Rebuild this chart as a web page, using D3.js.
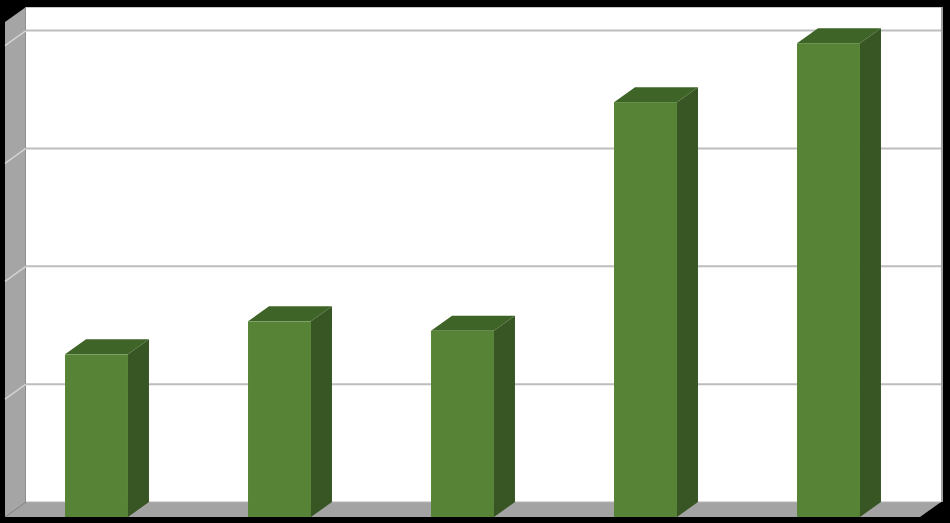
<!DOCTYPE html>
<meta charset="utf-8">
<style>
body { margin: 0; background: #000; }
svg { display: block; }
</style>
<body>
<div id="chart"></div>
<script src="https://cdn.jsdelivr.net/npm/d3@7"></script>
<script>
// data (no axis labels shown in the original)
var categories = ['Cat 1', 'Cat 2', 'Cat 3', 'Cat 4', 'Cat 5'];
var values = [6.9, 8.3, 7.9, 17.6, 20.1];
var yTicks = [0, 5, 10, 15, 20];
var yMax = 21;

var width = 950, height = 523;
// 3d depth offset: back plane is shifted right/up from the front plane
var dx = 21, dy = 15;
var wallLeft = 26, wallRight = 941, wallTop = 7, wallBottom = 502;

var svg = d3.select('#chart')
  .append('svg')
  .attr('width', width)
  .attr('height', height);

svg.append('rect')
  .attr('width', width)
  .attr('height', height)
  .attr('fill', '#000');

// front plane x scale, back plane y scale
var x = d3.scaleBand()
  .domain(categories)
  .range([wallLeft - dx, wallRight - dx])
  .paddingInner(0.656)
  .paddingOuter(0.328);

var y = d3.scaleLinear()
  .domain([0, yMax])
  .range([wallBottom, wallTop]);

// back wall
svg.append('rect')
  .attr('x', wallLeft)
  .attr('y', wallTop)
  .attr('width', wallRight - wallLeft)
  .attr('height', wallBottom - wallTop)
  .attr('fill', '#fff');

svg.append('line')
  .attr('x1', wallLeft).attr('x2', wallRight)
  .attr('y1', wallTop + 0.5).attr('y2', wallTop + 0.5)
  .attr('stroke', '#c8c8c8')
  .attr('stroke-width', 1);

svg.append('line')
  .attr('x1', wallRight + 1).attr('x2', wallRight + 1)
  .attr('y1', wallTop).attr('y2', wallBottom)
  .attr('stroke', '#a0a0a0')
  .attr('stroke-width', 2);

// left side wall
svg.append('polygon')
  .attr('points', [[wallLeft, wallTop], [wallLeft, wallBottom],
                   [wallLeft - dx, wallBottom + dy], [wallLeft - dx, wallTop + dy]].join(' '))
  .attr('fill', '#a5a5a5');

svg.append('line')
  .attr('x1', wallLeft - 0.5).attr('x2', wallLeft - 0.5)
  .attr('y1', wallTop).attr('y2', wallBottom)
  .attr('stroke', '#8f8f8f')
  .attr('stroke-width', 1);

// floor
svg.append('polygon')
  .attr('points', [[wallLeft, wallBottom], [wallRight, wallBottom],
                   [wallRight - dx, wallBottom + dy], [wallLeft - dx, wallBottom + dy]].join(' '))
  .attr('fill', '#a3a3a3');

svg.append('line')
  .attr('x1', wallLeft).attr('x2', wallRight)
  .attr('y1', wallBottom).attr('y2', wallBottom)
  .attr('stroke', '#b4b4b4')
  .attr('stroke-width', 1);

// gridlines on back wall and side wall
var grid = yTicks.filter(function(d) { return d > 0; });

svg.selectAll('line.grid')
  .data(grid)
  .enter().append('line')
  .attr('class', 'grid')
  .attr('x1', wallLeft).attr('x2', wallRight)
  .attr('y1', function(d) { return y(d); })
  .attr('y2', function(d) { return y(d); })
  .attr('stroke', '#bdbdbd')
  .attr('stroke-width', 2);

svg.selectAll('line.sidegrid')
  .data(grid)
  .enter().append('line')
  .attr('class', 'sidegrid')
  .attr('x1', wallLeft).attr('x2', wallLeft - dx)
  .attr('y1', function(d) { return y(d); })
  .attr('y2', function(d) { return y(d) + dy; })
  .attr('stroke', '#d2d2d2')
  .attr('stroke-width', 1.5);

// 3d bars
var bars = svg.selectAll('g.bar')
  .data(values.map(function(v, i) { return { cat: categories[i], value: v }; }))
  .enter().append('g')
  .attr('class', 'bar');

var bw = x.bandwidth();
var floorFront = wallBottom + dy;

bars.append('polygon')
  .attr('fill', '#375623')
  .attr('points', function(d) {
    var x0 = x(d.cat) + bw, top = y(d.value) + dy;
    return [[x0, top], [x0 + dx, top - dy], [x0 + dx, wallBottom], [x0, floorFront]].join(' ');
  });

bars.append('polygon')
  .attr('fill', '#3f6427')
  .attr('points', function(d) {
    var x0 = x(d.cat), top = y(d.value) + dy;
    return [[x0, top], [x0 + bw, top], [x0 + bw + dx, top - dy], [x0 + dx, top - dy]].join(' ');
  });

bars.append('rect')
  .attr('fill', '#568335')
  .attr('x', function(d) { return x(d.cat); })
  .attr('y', function(d) { return y(d.value) + dy; })
  .attr('width', bw)
  .attr('height', function(d) { return floorFront - (y(d.value) + dy); });
</script>
</body>
